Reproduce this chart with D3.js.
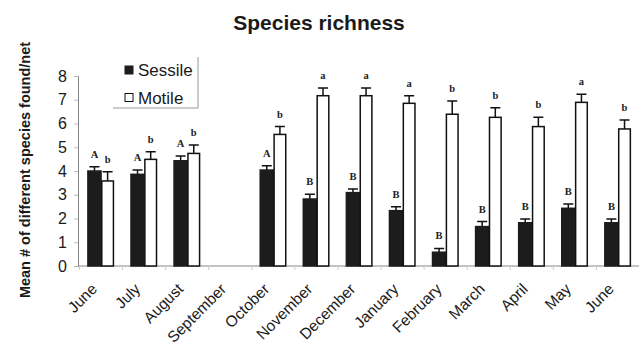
<!DOCTYPE html>
<html>
<head>
<meta charset="utf-8">
<script src="https://cdn.jsdelivr.net/npm/d3@7"></script>
<style>
  html, body { margin: 0; padding: 0; background: #fff; }
  svg { display: block; font-family: Arial, "Liberation Sans", sans-serif; }
</style>
</head>
<body>
<svg id="chart" width="639" height="347"></svg>
<script>
// Monthly sampling periods (two Junes: start and end of the survey)
const months = ["June", "July", "August", "September", "October", "November", "December",
                "January", "February", "March", "April", "May", "June"];

// Mean number of species per net, with standard errors (no sampling in September)
const sessile    = [4.00, 3.86, 4.43, null, 4.04, 2.82, 3.09, 2.33, 0.58, 1.66, 1.82, 2.43, 1.82];
const sessileErr = [0.18, 0.18, 0.20, null, 0.18, 0.20, 0.15, 0.17, 0.16, 0.21, 0.16, 0.18, 0.16];
const motile     = [3.58, 4.49, 4.74, null, 5.54, 7.17, 7.17, 6.85, 6.39, 6.26, 5.87, 6.89, 5.77];
const motileErr  = [0.39, 0.32, 0.35, null, 0.33, 0.32, 0.32, 0.32, 0.56, 0.40, 0.39, 0.34, 0.38];

// Post-hoc grouping letters
const sessileGroups = ["A", "A", "A", "", "A", "B", "B", "B", "B", "B", "B", "B", "B"];
const motileGroups  = ["b", "b", "b", "", "b", "a", "a", "a", "b", "b", "b", "a", "b"];

const yTicks = [0, 1, 2, 3, 4, 5, 6, 7, 8];
const seriesNames = ["Sessile", "Motile"];

const svg = d3.select("#chart");

const x = d3.scaleBand()
  .domain(months.map((m, i) => i))
  .range([79.5, 639.5])
  .paddingInner(0.39)
  .paddingOuter(0.195);

const xSub = d3.scaleBand()
  .domain(seriesNames)
  .range([0, x.bandwidth()]);

const y = d3.scaleLinear().domain([0, 8]).range([266, 76]);

// Title
svg.append("text")
  .attr("x", 319).attr("y", 30)
  .attr("text-anchor", "middle")
  .attr("font-size", 21).attr("font-weight", "bold")
  .attr("fill", "#1a1a1a")
  .text("Species richness");

// Y axis title
svg.append("text")
  .attr("transform", "translate(30,170) rotate(-90)")
  .attr("text-anchor", "middle")
  .attr("font-size", 14.5).attr("font-weight", "bold")
  .attr("fill", "#1a1a1a")
  .text("Mean # of different species found/net");

// Y axis
const yAxis = svg.append("g")
  .attr("transform", "translate(78,0)")
  .call(d3.axisLeft(y).tickValues(yTicks).tickSize(4).tickPadding(7).tickFormat(d3.format("d")));
yAxis.select(".domain").attr("stroke", "#888");
yAxis.selectAll(".tick line").attr("stroke", "#bbb");
yAxis.selectAll(".tick text")
  .attr("font-size", 16).attr("fill", "#1a1a1a")
  .attr("font-family", "Arial, 'Liberation Sans', sans-serif");

// X axis baseline with ticks between categories
const xAxisG = svg.append("g");
xAxisG.append("line")
  .attr("x1", 78).attr("x2", 639)
  .attr("y1", y(0)).attr("y2", y(0))
  .attr("stroke", "#888");
const step = x.step();
xAxisG.selectAll("line.tick")
  .data(d3.range(months.length + 1))
  .join("line")
  .attr("class", "tick")
  .attr("x1", i => 79.5 + i * step)
  .attr("x2", i => 79.5 + i * step)
  .attr("y1", y(0)).attr("y2", y(0) + 4)
  .attr("stroke", "#ccc");

// Month labels
xAxisG.selectAll("text.month")
  .data(months)
  .join("text")
  .attr("class", "month")
  .attr("transform", (d, i) => `translate(${x(i) + x.bandwidth() / 2 - 3},290) rotate(-45)`)
  .attr("text-anchor", "end")
  .attr("font-size", 15.5)
  .attr("fill", "#1a1a1a")
  .text(d => d);

// Bars
const rows = months.map((m, i) => ({
  i,
  Sessile: { v: sessile[i], e: sessileErr[i], g: sessileGroups[i] },
  Motile: { v: motile[i], e: motileErr[i], g: motileGroups[i] }
}));

const styles = {
  Sessile: { fill: "#1c1c1c", stroke: "#1c1c1c" },
  Motile: { fill: "#ffffff", stroke: "#111" }
};

seriesNames.forEach(s => {
  const data = rows.filter(r => r[s].v !== null);
  const g = svg.append("g");
  const bx = r => x(r.i) + xSub(s);
  const bw = xSub.bandwidth();

  g.selectAll("rect")
    .data(data)
    .join("rect")
    .attr("x", r => bx(r) + (s === "Motile" ? 0.75 : 0))
    .attr("width", s === "Motile" ? bw - 1.5 : bw)
    .attr("y", r => y(r[s].v))
    .attr("height", r => y(0) - y(r[s].v))
    .attr("fill", styles[s].fill)
    .attr("stroke", styles[s].stroke)
    .attr("stroke-width", 1.5);

  // upper error bars with caps
  g.selectAll("path.err")
    .data(data)
    .join("path")
    .attr("class", "err")
    .attr("d", r => {
      const cx = bx(r) + bw / 2;
      const top = y(r[s].v + r[s].e);
      return `M${cx},${y(r[s].v)}V${top}M${cx - 5},${top}H${cx + 5}`;
    })
    .attr("stroke", "#111")
    .attr("stroke-width", 1.5)
    .attr("fill", "none");

  // grouping letters
  g.selectAll("text.grp")
    .data(data)
    .join("text")
    .attr("class", "grp")
    .attr("x", r => bx(r) + bw / 2)
    .attr("y", r => y(r[s].v + r[s].e) - 9)
    .attr("text-anchor", "middle")
    .attr("font-family", "'Liberation Serif', 'DejaVu Serif', serif")
    .attr("font-weight", "bold")
    .attr("font-size", 10.5)
    .attr("fill", "#222")
    .text(r => r[s].g);
});

// Legend
const legend = svg.append("g");
legend.append("rect")
  .attr("x", 113).attr("y", 57).attr("width", 85).attr("height", 51)
  .attr("fill", "#fff");
legend.append("path")
  .attr("d", "M198,57V108H113")
  .attr("stroke", "#999").attr("fill", "none");
seriesNames.forEach((s, k) => {
  const cy = 70 + k * 27.5;
  legend.append("rect")
    .attr("x", 125).attr("y", cy - 4).attr("width", 8).attr("height", 8)
    .attr("fill", styles[s].fill).attr("stroke", styles[s].stroke).attr("stroke-width", 1);
  legend.append("text")
    .attr("x", 138).attr("y", cy + 6)
    .attr("font-size", 17).attr("fill", "#1a1a1a")
    .text(s);
});
</script>
</body>
</html>
